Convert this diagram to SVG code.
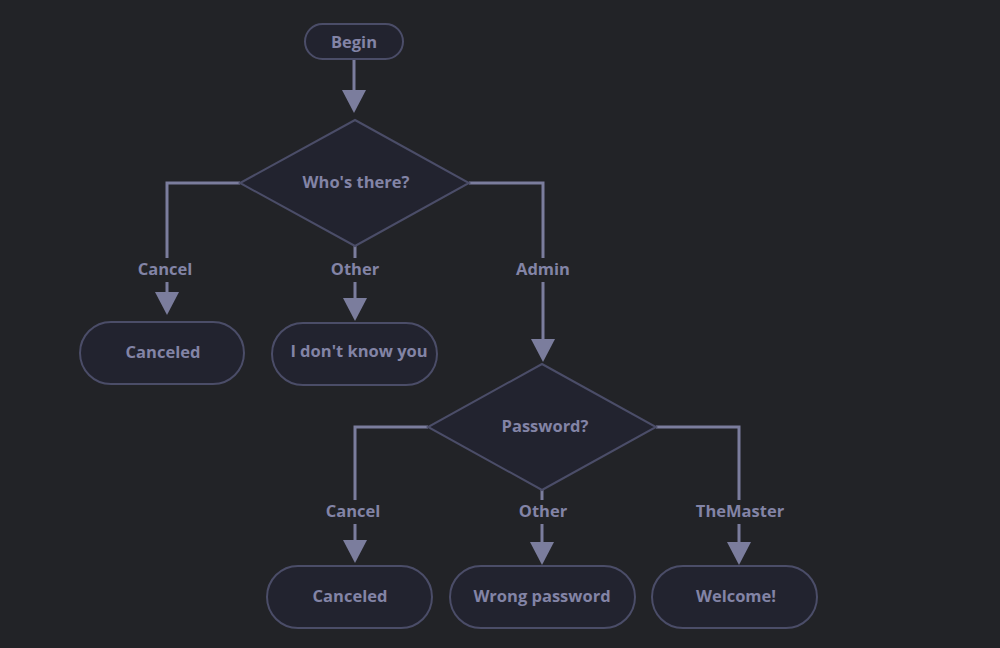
<svg xmlns="http://www.w3.org/2000/svg" width="1000" height="648" viewBox="0 0 1000 648">
<defs>
<marker id="arr" markerUnits="userSpaceOnUse" markerWidth="24" markerHeight="24" refX="0" refY="12" orient="auto" viewBox="0 0 24 24">
<path d="M0,0 L23,12 L0,24 z" fill="#7b7d9d"/>
</marker>
<style>
.node{fill:#22232f;stroke:#4b4d68;stroke-width:2}
.t{font-family:"Open Sans","Noto Sans",sans-serif;font-weight:700;font-size:16.5px;fill:#8384a6;text-anchor:middle;dominant-baseline:central}
.e{fill:none;stroke:#7b7d9d;stroke-width:3;marker-end:url(#arr)}
.lb{fill:#222327}
.l{font-family:"Open Sans","Noto Sans",sans-serif;font-weight:700;font-size:16.5px;fill:#8384a6;text-anchor:middle;dominant-baseline:central}
</style>
</defs>
<rect width="1000" height="648" fill="#222327"/>
<g id="edges">
<path class="e" d="M354,59 V90"/>
<path class="e" d="M240,183 H167 V292"/>
<path class="e" d="M355,246 V298"/>
<path class="e" d="M469,183 H543 V339"/>
<path class="e" d="M428,427 H355 V540"/>
<path class="e" d="M542,490 V542"/>
<path class="e" d="M656,427 H739 V542"/>
<rect class="lb" x="130" y="258" width="74" height="24"/>
<text class="l" x="165" y="268">Cancel</text>
<rect class="lb" x="322" y="258" width="66" height="24"/>
<text class="l" x="355" y="268">Other</text>
<rect class="lb" x="508" y="258" width="70" height="24"/>
<text class="l" x="543" y="268">Admin</text>
<rect class="lb" x="318" y="500" width="74" height="24"/>
<text class="l" x="353" y="510">Cancel</text>
<rect class="lb" x="510" y="500" width="66" height="24"/>
<text class="l" x="543" y="510">Other</text>
<rect class="lb" x="690" y="500" width="100" height="24"/>
<text class="l" x="740" y="510">TheMaster</text>
</g>
<g id="begin">
<rect class="node" x="305" y="24" width="98" height="35" rx="17.5"/>
<text class="t" x="354" y="41">Begin</text>
</g>
<g id="who">
<polygon class="node" points="355,120 469,183 355,246 240,183"/>
<text class="t" x="356" y="181">Who's there?</text>
</g>
<g id="canceled1">
<rect class="node" x="80" y="322" width="164" height="62" rx="31"/>
<text class="t" x="163" y="351">Canceled</text>
</g>
<g id="unknown">
<rect class="node" x="272" y="323" width="165" height="62" rx="31"/>
<text class="t" x="359" y="350">I don't know you</text>
</g>
<g id="password">
<polygon class="node" points="542,364 656,427 542,490 428,427"/>
<text class="t" x="545" y="425">Password?</text>
</g>
<g id="canceled2">
<rect class="node" x="267" y="566" width="165" height="62" rx="31"/>
<text class="t" x="350" y="595">Canceled</text>
</g>
<g id="wrong">
<rect class="node" x="450" y="566" width="185" height="62" rx="31"/>
<text class="t" x="542" y="595">Wrong password</text>
</g>
<g id="welcome">
<rect class="node" x="652" y="566" width="165" height="62" rx="31"/>
<text class="t" x="736" y="595">Welcome!</text>
</g>
</svg>
